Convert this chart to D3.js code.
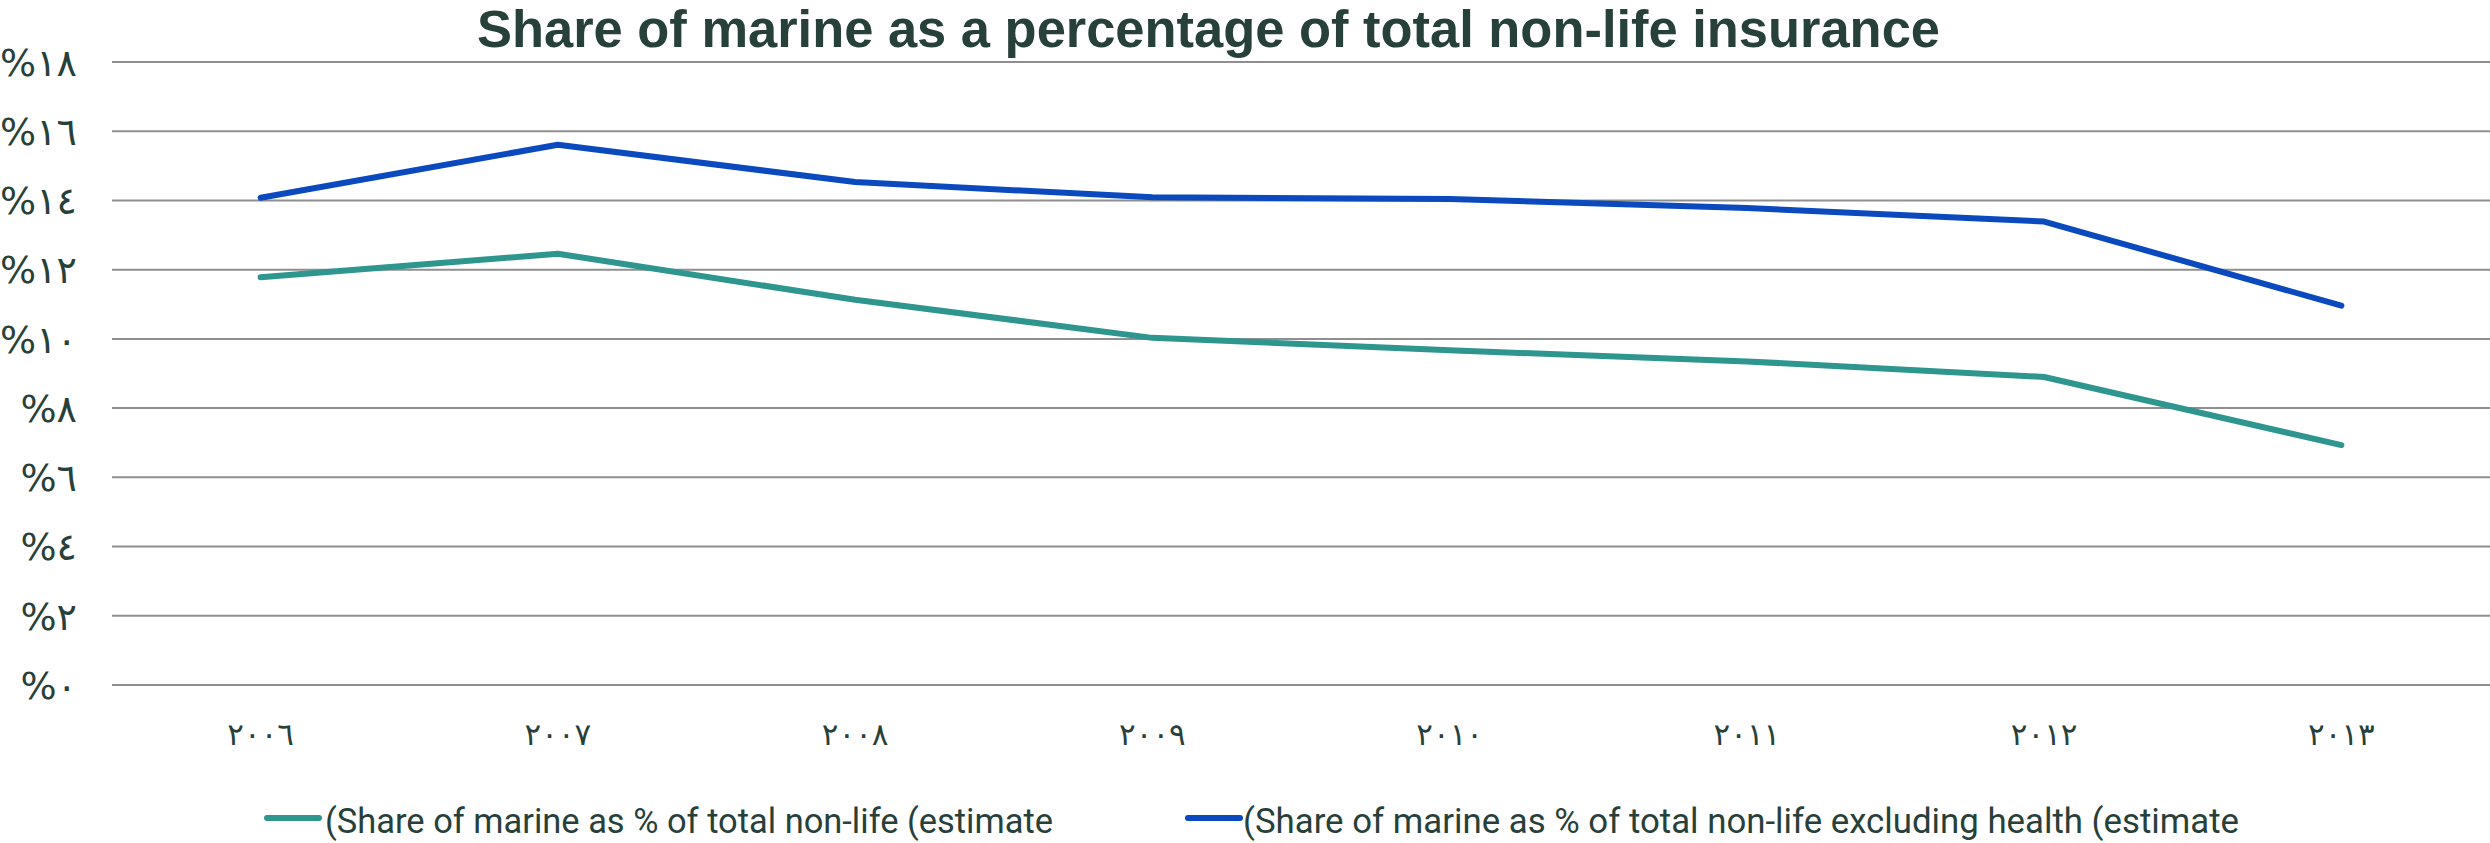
<!DOCTYPE html>
<html>
<head>
<meta charset="utf-8">
<script src="https://cdn.jsdelivr.net/npm/d3@7"></script>
<style>
  html, body { margin: 0; padding: 0; background: #ffffff; }
  svg { display: block; }
</style>
</head>
<body>
<svg id="chart" width="2490" height="843"></svg>
<script>
// ---- data ----
const years = ["٢٠٠٦", "٢٠٠٧", "٢٠٠٨", "٢٠٠٩", "٢٠١٠", "٢٠١١", "٢٠١٢", "٢٠١٣"];
const shareNonLife = [11.78, 12.46, 11.13, 10.03, 9.67, 9.35, 8.90, 6.93];
const shareExHealth = [14.08, 15.61, 14.53, 14.09, 14.04, 13.78, 13.39, 10.96];
const yTicks = [0, 2, 4, 6, 8, 10, 12, 14, 16, 18];
const yTickLabels = ["%٠", "%٢", "%٤", "%٦", "%٨", "%١٠", "%١٢", "%١٤", "%١٦", "%١٨"];
const seriesNames = [
  "(Share of marine as % of total non-life (estimate",
  "(Share of marine as % of total non-life excluding health (estimate"
];
const title = "Share of marine as a percentage of total non-life insurance";

// ---- layout ----
const W = 2490, H = 843;
const plot = { left: 112, right: 2490, top: 62, bottom: 685 };
const textColor = "#27403a";
const colors = ["#2e958f", "#0b49bf"];

const svg = d3.select("#chart");

const x = d3.scaleBand().domain(years).range([plot.left, plot.right]);
const y = d3.scaleLinear().domain([0, 18]).range([plot.bottom, plot.top]);

// grid lines
svg.append("g")
  .selectAll("line")
  .data(yTicks)
  .join("line")
  .attr("x1", plot.left).attr("x2", plot.right)
  .attr("y1", d => y(d)).attr("y2", d => y(d))
  .attr("stroke", "#8f8f8f").attr("stroke-width", 2);

// y axis labels
const yAxis = d3.axisLeft(y).tickValues(yTicks).tickSize(0)
  .tickFormat((d, i) => yTickLabels[i]);
const gy = svg.append("g").attr("transform", "translate(77,0)").call(yAxis);
gy.select(".domain").remove();
gy.selectAll("text")
  .attr("x", 0).attr("dy", "0.35em")
  .attr("fill", textColor)
  .style("font-family", "'DejaVu Sans', 'Noto Sans', sans-serif")
  .style("font-size", "38px");

// x axis labels
const xAxis = d3.axisBottom(x).tickSize(0);
const gx = svg.append("g").attr("transform", `translate(0,${plot.bottom})`).call(xAxis);
gx.select(".domain").remove();
gx.selectAll("text")
  .attr("y", 60).attr("dy", 0)
  .attr("fill", textColor)
  .style("font-family", "'DejaVu Sans', 'Noto Sans', sans-serif")
  .style("font-size", "31px")
  .style("letter-spacing", "1px");

// lines
const line = d3.line()
  .x((d, i) => x(years[i]) + x.bandwidth() / 2)
  .y(d => y(d));

[shareNonLife, shareExHealth].forEach((s, k) => {
  svg.append("path")
    .datum(s)
    .attr("d", line)
    .attr("fill", "none")
    .attr("stroke", colors[k])
    .attr("stroke-width", 6)
    .attr("stroke-linecap", "round")
    .attr("stroke-linejoin", "round");
});

// title
svg.append("text")
  .attr("x", 477).attr("y", 47)
  .attr("fill", textColor)
  .style("font-family", "'Liberation Sans', Arial, sans-serif")
  .style("font-weight", "bold")
  .style("font-size", "51px")
  .attr("textLength", 1463)
  .attr("lengthAdjust", "spacingAndGlyphs")
  .text(title);

// legend
const legendItems = [
  { sx: 267, tx: 325, w: 728 },
  { sx: 1188, tx: 1243, w: 996 }
];
legendItems.forEach((it, k) => {
  svg.append("line")
    .attr("x1", it.sx).attr("x2", it.sx + 52)
    .attr("y1", 818).attr("y2", 818)
    .attr("stroke", colors[k]).attr("stroke-width", 6)
    .attr("stroke-linecap", "round");
  svg.append("text")
    .attr("x", it.tx).attr("y", 833)
    .attr("fill", textColor)
    .attr("direction", "ltr")
    .style("font-family", "'Liberation Sans Narrow', 'Roboto', sans-serif")
    .style("font-size", "35px")
    .attr("textLength", it.w)
    .attr("lengthAdjust", "spacingAndGlyphs")
    .style("unicode-bidi", "plaintext")
    .text(seriesNames[k]);
});
</script>
</body>
</html>
